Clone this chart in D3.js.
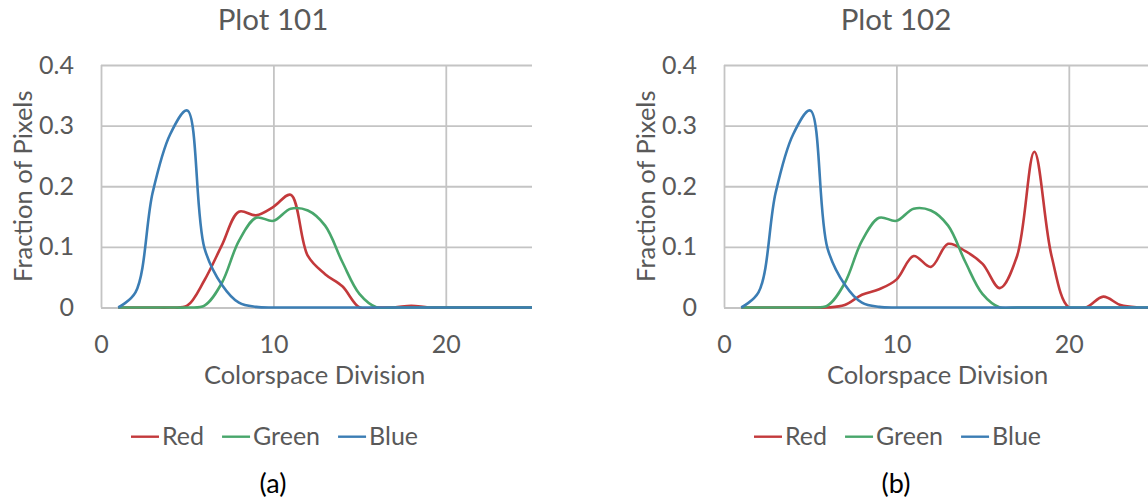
<!DOCTYPE html>
<html>
<head>
<meta charset="utf-8">
<script src="https://cdn.jsdelivr.net/npm/d3@7"></script>
<style>
  body { margin: 0; background: #fff; }
  text { font-family: Lato, "Open Sans", sans-serif; }
</style>
</head>
<body>
<div id="chart"></div>
<script>
// colorspace divisions (x values), same for both plots
var divisions = [1, 2, 3, 4, 5, 6, 7, 8, 9, 10, 11, 12, 13, 14, 15, 16, 17, 18, 19, 20, 21, 22, 23, 24, 25]

// Plot 101
var red101   = [0, 0, 0, 0, 0.003, 0.045, 0.102, 0.158, 0.152, 0.166, 0.186, 0.085, 0.055, 0.035, 0, 0, 0, 0.003, 0, 0, 0, 0, 0, 0, 0]
var green101 = [0, 0, 0, 0, 0, 0.003, 0.04, 0.11, 0.148, 0.143, 0.163, 0.16, 0.135, 0.075, 0.022, 0, 0, 0, 0, 0, 0, 0, 0, 0, 0]
var blue101  = [0, 0.025, 0.19, 0.285, 0.325, 0.098, 0.038, 0.008, 0.001, 0, 0, 0, 0, 0, 0, 0, 0, 0, 0, 0, 0, 0, 0, 0, 0]

// Plot 102
var red102   = [0, 0, 0, 0, 0, 0, 0.004, 0.021, 0.03, 0.046, 0.085, 0.067, 0.105, 0.093, 0.072, 0.032, 0.085, 0.257, 0.085, 0, 0, 0.018, 0.004, 0, 0]
var green102 = [0, 0, 0, 0, 0, 0.003, 0.04, 0.11, 0.148, 0.143, 0.163, 0.16, 0.135, 0.075, 0.022, 0, 0, 0, 0, 0, 0, 0, 0, 0, 0]
var blue102  = [0, 0.025, 0.19, 0.285, 0.325, 0.098, 0.038, 0.008, 0.001, 0, 0, 0, 0, 0, 0, 0, 0, 0, 0, 0, 0, 0, 0, 0, 0]

var seriesNames = ["Red", "Green", "Blue"]
var seriesColors = ["#C3393B", "#48A66B", "#3B7DB4"]
var xTicks = [0, 10, 20]
var yTicks = [0, 0.1, 0.2, 0.3, 0.4]

var W = 1148, H = 504
var textColor = "#595959"
var gridColor = "#C4C4C4"

var svg = d3.select("#chart").append("svg")
  .attr("width", W)
  .attr("height", H)

svg.append("rect").attr("width", W).attr("height", H).attr("fill", "#fff")

function drawChart(offsetX, id, title, caption, series) {
  var left = 101, right = 532, top = 65, bottom = 307.5
  var cx = 273 // centre of the chart area

  var g = svg.append("g").attr("transform", "translate(" + offsetX + ",0)")

  var x = d3.scaleLinear().domain([0, 25]).range([left, right])
  var y = d3.scaleLinear().domain([0, 0.4]).range([bottom, top])

  // horizontal gridlines
  var gy = g.append("g")
    .attr("transform", "translate(" + left + ",0)")
    .call(d3.axisLeft(y).tickValues(yTicks).tickSize(-(right - left)).tickFormat(""))
  gy.select(".domain").remove()
  gy.selectAll("line").attr("stroke", gridColor).attr("stroke-width", 1.8)

  // vertical gridlines
  var gx = g.append("g")
    .attr("transform", "translate(0," + bottom + ")")
    .call(d3.axisBottom(x).tickValues(xTicks).tickSize(-(bottom - top)).tickFormat(""))
  gx.select(".domain").remove()
  gx.selectAll("line").attr("stroke", gridColor).attr("stroke-width", 1.8)

  // tick labels
  var ly = g.append("g")
    .attr("transform", "translate(" + left + ",0)")
    .call(d3.axisLeft(y).tickValues(yTicks).tickSize(0).tickPadding(27).tickFormat(function(d){ return d === 0 ? "0" : d3.format(".1f")(d) }))
  ly.select(".domain").remove()
  ly.selectAll("text").attr("font-family", "Lato").attr("font-size", 25).attr("fill", textColor)

  var lx = g.append("g")
    .attr("transform", "translate(0," + bottom + ")")
    .call(d3.axisBottom(x).tickValues(xTicks).tickSize(0).tickPadding(28))
  lx.select(".domain").remove()
  lx.selectAll("text").attr("font-family", "Lato").attr("font-size", 25).attr("fill", textColor)

  // axis titles
  g.append("text")
    .attr("x", (left + right) / 2 - 2)
    .attr("y", 384)
    .attr("text-anchor", "middle")
    .attr("font-size", 25.5)
    .attr("fill", textColor)
    .text("Colorspace Division")

  g.append("text")
    .attr("transform", "translate(31.5," + (top + bottom) / 2 + ") rotate(-90)")
    .attr("text-anchor", "middle")
    .attr("font-size", 25.5)
    .attr("fill", textColor)
    .text("Fraction of Pixels")

  // chart title
  g.append("text")
    .attr("x", cx)
    .attr("y", 30)
    .attr("text-anchor", "middle")
    .attr("font-size", 29.5)
    .attr("fill", textColor)
    .text(title)

  // clip so that spline undershoot below zero stays hidden
  g.append("clipPath").attr("id", "clip" + id)
    .append("rect")
    .attr("x", left - 5).attr("y", top - 10)
    .attr("width", right - left + 10).attr("height", bottom - top + 11.5)

  var line = d3.line()
    .x(function(d){ return x(d[0]) })
    .y(function(d){ return y(d[1]) })
    .curve(d3.curveCatmullRom.alpha(0.5))

  var lines = g.append("g").attr("clip-path", "url(#clip" + id + ")")
  series.forEach(function(vals, i) {
    var pts = divisions.map(function(dv, k){ return [dv, vals[k]] })
    lines.append("path")
      .attr("d", line(pts))
      .attr("fill", "none")
      .attr("stroke", seriesColors[i])
      .attr("stroke-width", 2.6)
      .attr("stroke-linejoin", "round")
  })

  // legend
  var leg = g.append("g")
  var pos = 0
  seriesNames.forEach(function(name, i) {
    var item = leg.append("g").attr("transform", "translate(" + pos + ",0)")
    item.append("line")
      .attr("x1", 0).attr("x2", 28)
      .attr("y1", 436.7).attr("y2", 436.7)
      .attr("stroke", seriesColors[i])
      .attr("stroke-width", 2.4)
    var t = item.append("text")
      .attr("x", 31)
      .attr("y", 445)
      .attr("font-size", 25)
      .attr("fill", textColor)
      .text(name)
    pos += 31 + t.node().getComputedTextLength() + 18
  })
  var legW = pos - 18
  leg.attr("transform", "translate(" + (cx + 1.5 - legW / 2) + ",0)")

  // caption under the chart
  g.append("text")
    .attr("x", cx)
    .attr("y", 493)
    .attr("text-anchor", "middle")
    .attr("font-size", 27)
    .attr("fill", "#000")
    .text(caption)
}

drawChart(0, "a", "Plot 101", "(a)", [red101, green101, blue101])
drawChart(623, "b", "Plot 102", "(b)", [red102, green102, blue102])
</script>
</body>
</html>
